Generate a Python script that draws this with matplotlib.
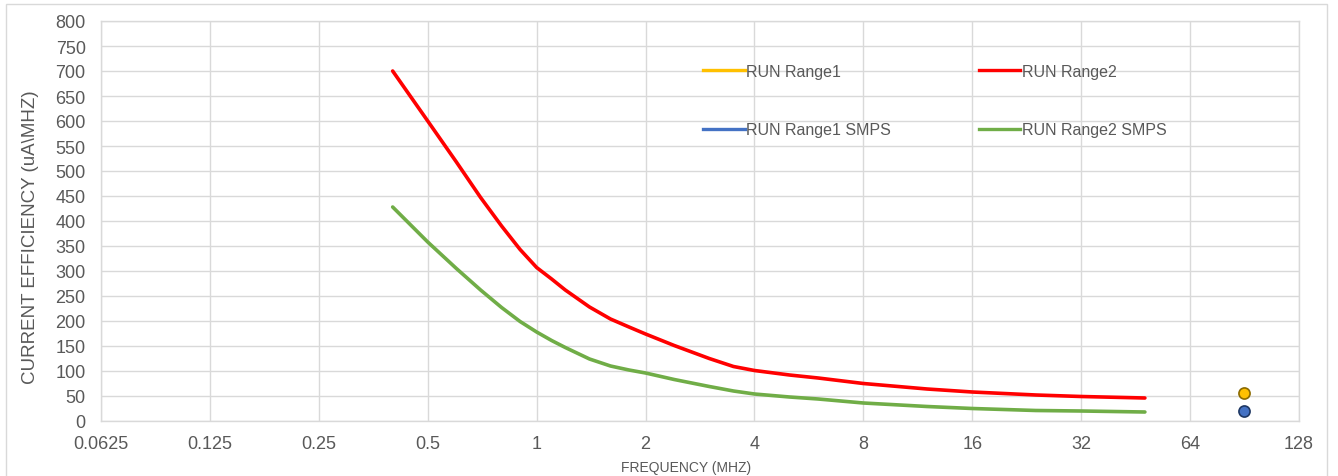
import matplotlib.pyplot as plt
from matplotlib.lines import Line2D
from matplotlib.patches import Rectangle
from matplotlib.ticker import FixedLocator, NullLocator

plt.rcParams['font.family'] = ['Liberation Sans', 'DejaVu Sans']

# frequency (MHz) and current efficiency (uA/MHz)
freq_r2 = [0.4, 0.5, 0.6, 0.7, 0.8, 0.9, 1.0, 1.1, 1.2, 1.4, 1.6, 1.8, 2.0, 2.4, 3.0, 3.5, 4.0, 5.0, 6.0, 8.0, 12, 16, 24, 32, 48]
run_range2 = [700, 600, 518, 447, 390, 343, 307, 284, 262, 228, 204, 188, 174, 151, 125, 109, 101, 92, 86, 75, 64, 58, 52, 49, 46]
run_range2_smps = [428, 358, 305, 262, 227, 199, 178, 161, 147, 124, 110, 102, 96, 83, 69, 60, 54, 48, 44, 36, 29, 25, 21, 20, 18]

freq_r1 = [90]
run_range1 = [56]
run_range1_smps = [20]

x_ticks = [0.0625, 0.125, 0.25, 0.5, 1, 2, 4, 8, 16, 32, 64, 128]
x_tick_labels = ['0.0625', '0.125', '0.25', '0.5', '1', '2', '4', '8', '16', '32', '64', '128']

c_yellow = '#FFC000'
c_red = '#FF0000'
c_blue = '#4472C4'
c_green = '#70AD47'
c_grid = '#D9D9D9'
c_text = '#595959'

fig = plt.figure(figsize=(13.38, 4.77), dpi=100)
ax = fig.add_axes([101 / 1338, 1 - 422 / 477, 1198 / 1338, 400 / 477])

# outer chart frame
fig.patches.append(Rectangle((6 / 1338, -0.1), 1321 / 1338, 1 - 5 / 477 + 0.1,
                             transform=fig.transFigure, fill=False,
                             edgecolor=c_grid, lw=1.0))

ax.plot(freq_r2, run_range2, color=c_red, lw=2.6, solid_capstyle='round',
        solid_joinstyle='round', zorder=3)
ax.plot(freq_r2, run_range2_smps, color=c_green, lw=2.6, solid_capstyle='round',
        solid_joinstyle='round', zorder=3)
ax.plot(freq_r1, run_range1, 'o', color=c_yellow, ms=8, mec='#8B6A00', mew=1.2, zorder=4)
ax.plot(freq_r1, run_range1_smps, 'o', color=c_blue, ms=8, mec='#1F3864', mew=1.2, zorder=4)

ax.set_xscale('log', base=2)
ax.set_xlim(0.0625, 128)
ax.set_ylim(0, 800)
ax.xaxis.set_major_locator(FixedLocator(x_ticks))
ax.xaxis.set_minor_locator(NullLocator())
ax.set_xticklabels(x_tick_labels)
ax.set_yticks(range(0, 801, 50))

ax.grid(True, color=c_grid, lw=1.0)
ax.set_axisbelow(True)
for s in ax.spines.values():
    s.set_color(c_grid)
    s.set_linewidth(1.0)
ax.tick_params(length=0, labelsize=13, colors=c_text)
ax.tick_params(axis='y', pad=11)
ax.tick_params(axis='x', pad=10)

ax.set_ylabel('CURRENT EFFICIENCY (uA\\MHZ)', fontsize=13.5, color=c_text)
ax.yaxis.set_label_coords(-0.052, 0.4625)
ax.set_xlabel('FREQUENCY (MHZ)', fontsize=10, color=c_text)
ax.xaxis.set_label_coords(0.488, -0.0975)

handles = [
    Line2D([], [], color=c_yellow, lw=2.4),
    Line2D([], [], color=c_blue, lw=2.4),
    Line2D([], [], color=c_red, lw=2.4),
    Line2D([], [], color=c_green, lw=2.4),
]
labels = ['RUN Range1', 'RUN Range1 SMPS', 'RUN Range2', 'RUN Range2 SMPS']
leg = ax.legend(handles, labels, ncol=2, loc='upper left', bbox_to_anchor=(0.5025, 0.8925),
                frameon=False, fontsize=11.5, handlelength=2.6, handletextpad=0.1,
                columnspacing=5.5, labelspacing=2.72, borderpad=0, borderaxespad=0)
for t in leg.get_texts():
    t.set_color(c_text)

fig.savefig('out.png', dpi=100, facecolor='white')
